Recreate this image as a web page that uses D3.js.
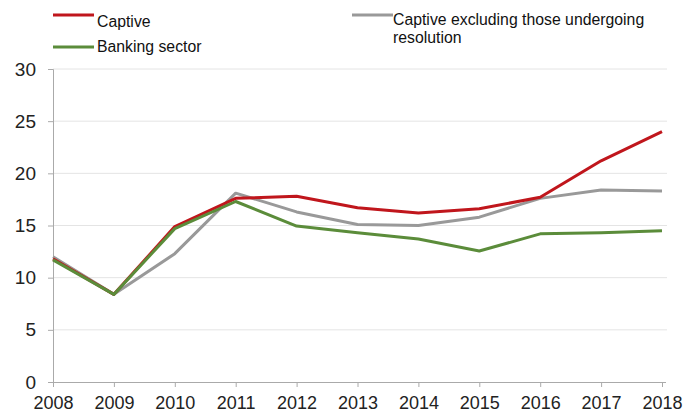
<!DOCTYPE html>
<html>
<head>
<meta charset="utf-8">
<script src="https://cdn.jsdelivr.net/npm/d3@7"></script>
<style>
  body { margin: 0; background: #fff; }
  svg { display: block; font-family: "Liberation Sans", Arial, sans-serif; }
</style>
</head>
<body>
<div id="chart"></div>
<script>
// data
const years = [2008, 2009, 2010, 2011, 2012, 2013, 2014, 2015, 2016, 2017, 2018]
const captive = [11.8, 8.4, 14.9, 17.6, 17.8, 16.7, 16.2, 16.6, 17.7, 21.2, 24.0]
const captiveExcl = [12.0, 8.4, 12.3, 18.1, 16.3, 15.1, 15.0, 15.8, 17.6, 18.4, 18.3]
const banking = [11.7, 8.4, 14.7, 17.3, 14.95, 14.3, 13.7, 12.55, 14.2, 14.3, 14.5]
const yTicks = [0, 5, 10, 15, 20, 25, 30]

const series = [
  { name: "Captive excluding those undergoing resolution", values: captiveExcl, color: "#999999" },
  { name: "Captive", values: captive, color: "#c0161c" },
  { name: "Banking sector", values: banking, color: "#5b8c3a" }
]

const W = 696, H = 412
const margin = { top: 69, right: 34, bottom: 30, left: 53 },
    width = W - margin.left - margin.right,
    height = H - margin.top - margin.bottom

const svg = d3.select("#chart")
    .append("svg")
    .attr("width", W)
    .attr("height", H)

const g = svg.append("g")
    .attr("transform", `translate(${margin.left}, ${margin.top})`)

const x = d3.scaleLinear().domain([2008, 2018]).range([0, 609])
const y = d3.scaleLinear().domain([0, 30]).range([height, 0])

// gridlines
g.selectAll(".grid")
  .data(yTicks.filter(d => d > 0))
  .join("line")
  .attr("class", "grid")
  .attr("x1", 0).attr("x2", 614)
  .attr("y1", d => y(d)).attr("y2", d => y(d))
  .attr("stroke", "#e4e4e4")
  .attr("stroke-width", 1)

// y axis
const yAxis = g.append("g")
  .call(d3.axisLeft(y).tickValues(yTicks).tickSize(5).tickPadding(12))
yAxis.selectAll("text").style("font-size", "19px").attr("fill", "#222")
yAxis.selectAll("line").attr("stroke", "#aaa")
yAxis.select(".domain").attr("stroke", "#aaa").attr("d", `M-5,0.5H0.5V${height}`)

// x axis
const xAxis = g.append("g")
  .attr("transform", `translate(0, ${height})`)
  .call(d3.axisBottom(x).tickValues(years).tickFormat(d3.format("d")).tickSize(5).tickPadding(9))
xAxis.selectAll("text").style("font-size", "18px").attr("fill", "#222")
xAxis.selectAll("line").attr("stroke", "#aaa")
xAxis.select(".domain").attr("stroke", "#aaa").attr("d", `M0.5,0.5H613`)

// lines
const line = d3.line()
  .x((d, i) => x(years[i]))
  .y(d => y(d))

g.selectAll(".series")
  .data(series)
  .join("path")
  .attr("class", "series")
  .attr("fill", "none")
  .attr("stroke", d => d.color)
  .attr("stroke-width", 3)
  .attr("stroke-linejoin", "round")
  .attr("d", d => line(d.values))

// legend
const legend = [
  { label: ["Captive"], color: "#c0161c", lx: 53, ly: 15, tx: 97, ty: 27 },
  { label: ["Banking sector"], color: "#5b8c3a", lx: 53, ly: 47, tx: 97, ty: 52 },
  { label: ["Captive excluding those undergoing", "resolution"], color: "#999999", lx: 352, ly: 15, tx: 393, ty: 25 }
]

const lg = svg.selectAll(".legend")
  .data(legend)
  .join("g")
  .attr("class", "legend")

lg.append("line")
  .attr("x1", d => d.lx).attr("x2", d => d.lx + 41)
  .attr("y1", d => d.ly).attr("y2", d => d.ly)
  .attr("stroke", d => d.color)
  .attr("stroke-width", 3)

lg.append("text")
  .attr("x", d => d.tx)
  .attr("y", d => d.ty)
  .style("font-size", "15.8px")
  .attr("fill", "#111")
  .selectAll("tspan")
  .data(d => d.label.map(t => ({ t, x: d.tx })))
  .join("tspan")
  .attr("x", d => d.x)
  .attr("dy", (d, i) => i === 0 ? 0 : 18)
  .text(d => d.t)
</script>
</body>
</html>
